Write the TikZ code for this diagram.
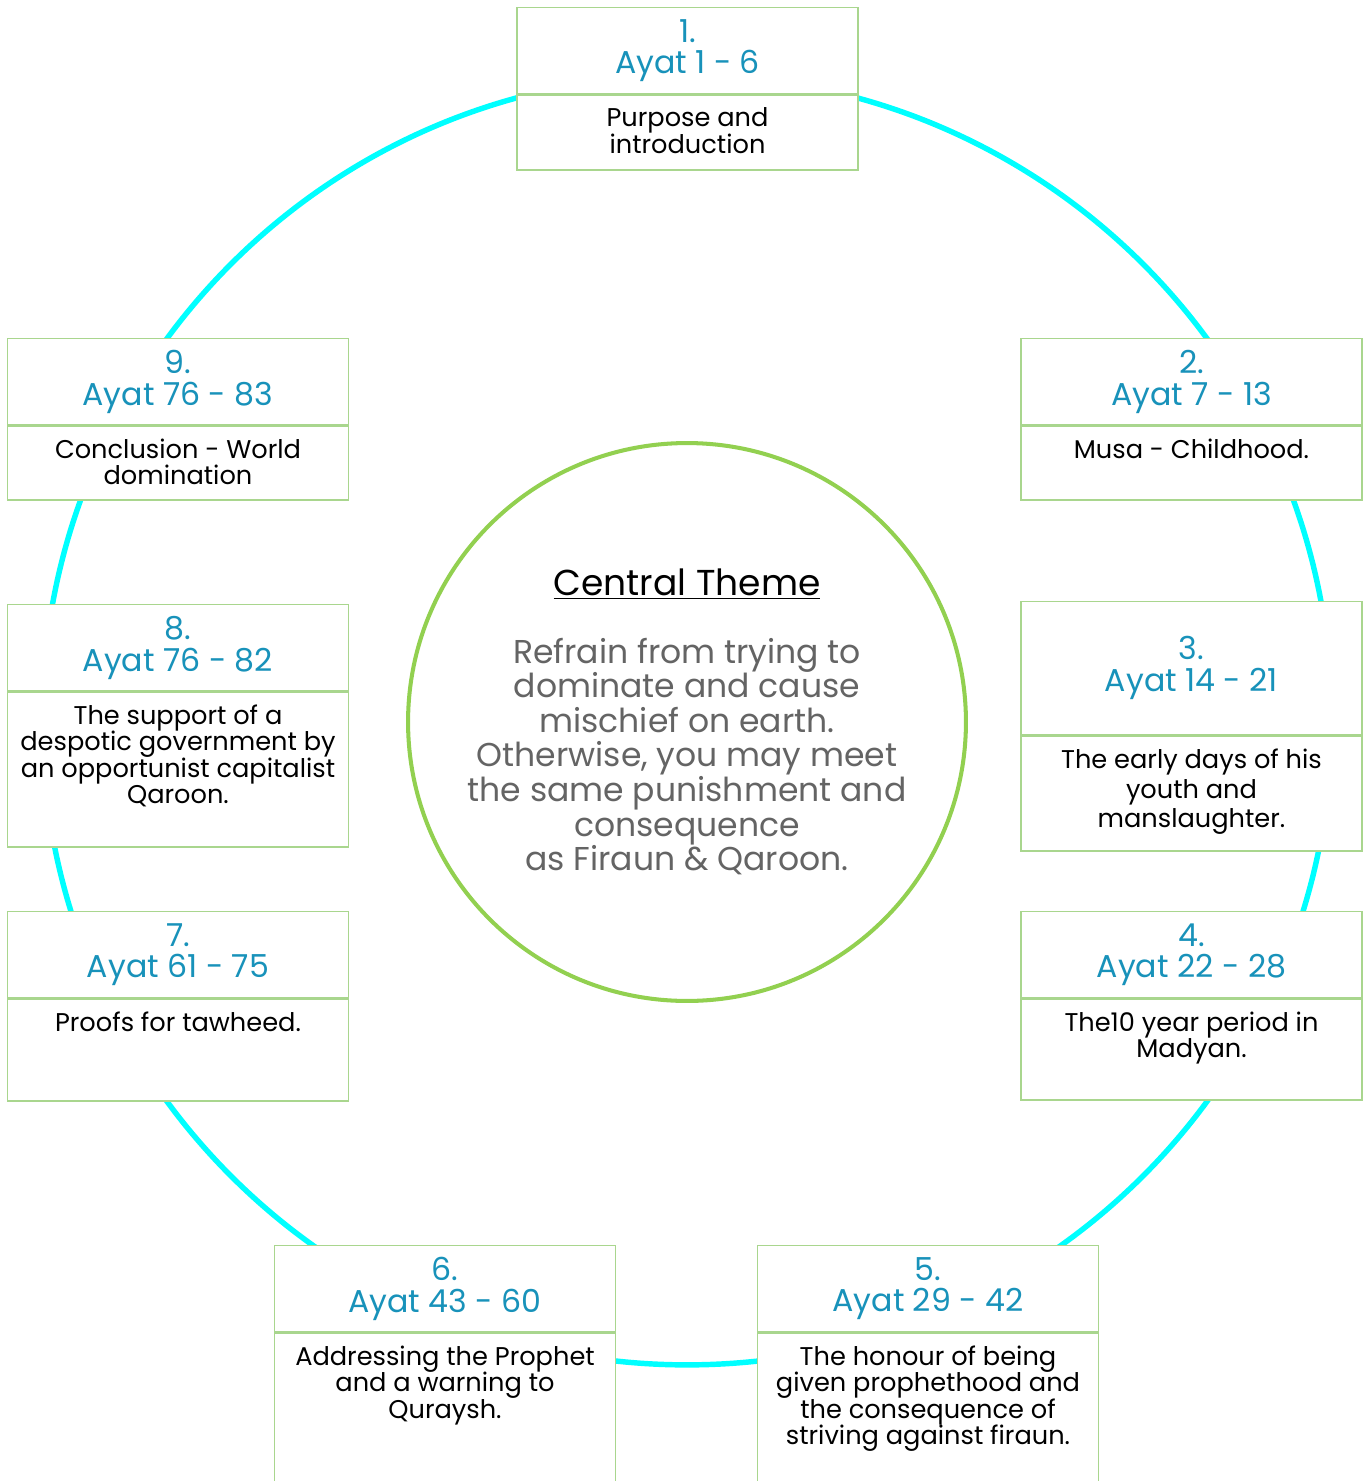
\documentclass[tikz,border=0pt]{standalone}
\usepackage{fontspec}
\setmainfont{Poppins}
\usetikzlibrary{positioning}

\definecolor{ringcyan}{RGB}{0,255,255}
\definecolor{themegreen}{RGB}{146,208,80}
\definecolor{boxgreen}{RGB}{169,214,142}
\definecolor{ayatblue}{RGB}{24,146,186}
\definecolor{themegray}{RGB}{100,100,100}

\newcommand{\titlefont}{\fontsize{18}{18}\selectfont}
\newcommand{\bodyfont}{\fontsize{14.6}{15.1}\selectfont}

\begin{document}
\begin{tikzpicture}[
    x=0.02cm, y=-0.02cm,
    ring/.style={circle, draw=ringcyan, line width=3.1pt, minimum size=25.8cm, inner sep=0pt},
    theme/.style={circle, draw=themegreen, line width=2.3pt, minimum size=11.16cm, inner sep=0pt},
    headbox/.style={rectangle, anchor=north, draw=boxgreen, fill=white, line width=0.8pt,
        minimum width=6.82cm, minimum height=1.72cm, align=center, inner sep=0pt,
        text=ayatblue, font=\titlefont},
    bodybox/.style={rectangle, draw=boxgreen, fill=white, line width=0.8pt,
        minimum width=6.82cm, inner sep=0pt},
    bodytext/.style={align=center, inner sep=0pt, font=\bodyfont}
    ]
        \clip (0,0) rectangle (1369,1481);

        %Ring and centre
        \node[ring]     (cycle)     at (687,720)    {};
        \node[theme]    (theme)     at (687,722)    {};
        \node[align=center, inner sep=0pt, text=themegray,
              font=\fontsize{18.8}{19.7}\selectfont]
            (themetext)     at (theme.center)
            {{\color{black}\fontsize{20.5}{20.5}\selectfont\underline{Central Theme}}\\[0.66cm]
             Refrain from trying to\\dominate and cause\\mischief on earth.\\
             Otherwise, you may meet\\the same punishment and\\consequence\\as Firaun \& Qaroon.};

        %Boxes
        \node[headbox]      (h1)    at (687.5,7)    {1.\\Ayat 1 - 6};
        \node[bodybox, minimum height=1.5cm]
            (b1)    [below=0pt of h1]           {};
        \node[bodytext]
            (t1)    [below=0.26cm of b1.north]  {Purpose and\\introduction};

        \node[headbox]      (h2)    at (1191.5,338) {2.\\Ayat 7 - 13};
        \node[bodybox, minimum height=1.48cm]
            (b2)    [below=0pt of h2]           {};
        \node[bodytext]
            (t2)    [below=0.26cm of b2.north]  {Musa - Childhood.};

        \node[headbox, minimum height=2.66cm]
                            (h3)    at (1191.5,601) {3.\\Ayat 14 - 21};
        \node[bodybox, minimum height=2.3cm]
            (b3)    [below=0pt of h3]           {};
        \node[bodytext, font=\fontsize{14.6}{16.7}\selectfont]
            (t3)    [below=0.27cm of b3.north]  {The early days of his\\youth and\\manslaughter.};

        \node[headbox]      (h4)    at (1191.5,911) {4.\\Ayat 22 - 28};
        \node[bodybox, minimum height=2.02cm]
            (b4)    [below=0pt of h4]           {};
        \node[bodytext]
            (t4)    [below=0.26cm of b4.north]  {The10 year period in\\Madyan.};

        \node[headbox]      (h5)    at (928,1245)   {5.\\Ayat 29 - 42};
        \node[bodybox, minimum height=3.4cm]
            (b5)    [below=0pt of h5]           {};
        \node[bodytext]
            (t5)    [below=0.26cm of b5.north]  {The honour of being\\given prophethood and\\the consequence of\\striving against firaun.};

        \node[headbox]      (h6)    at (445,1245)   {6.\\Ayat 43 - 60};
        \node[bodybox, minimum height=3.4cm]
            (b6)    [below=0pt of h6]           {};
        \node[bodytext]
            (t6)    [below=0.26cm of b6.north]  {Addressing the Prophet\\and a warning to\\Quraysh.};

        \node[headbox]      (h7)    at (178,911)    {7.\\Ayat 61 - 75};
        \node[bodybox, minimum height=2.04cm]
            (b7)    [below=0pt of h7]           {};
        \node[bodytext]
            (t7)    [below=0.26cm of b7.north]  {Proofs for tawheed.};

        \node[headbox]      (h8)    at (178,604)    {8.\\Ayat 76 - 82};
        \node[bodybox, minimum height=3.1cm]
            (b8)    [below=0pt of h8]           {};
        \node[bodytext]
            (t8)    [below=0.26cm of b8.north]  {The support of a\\despotic government by\\an opportunist capitalist\\Qaroon.};

        \node[headbox]      (h9)    at (178,338)    {9.\\Ayat 76 - 83};
        \node[bodybox, minimum height=1.48cm]
            (b9)    [below=0pt of h9]           {};
        \node[bodytext]
            (t9)    [below=0.26cm of b9.north]  {Conclusion - World\\domination};
    \end{tikzpicture}
\end{document}
